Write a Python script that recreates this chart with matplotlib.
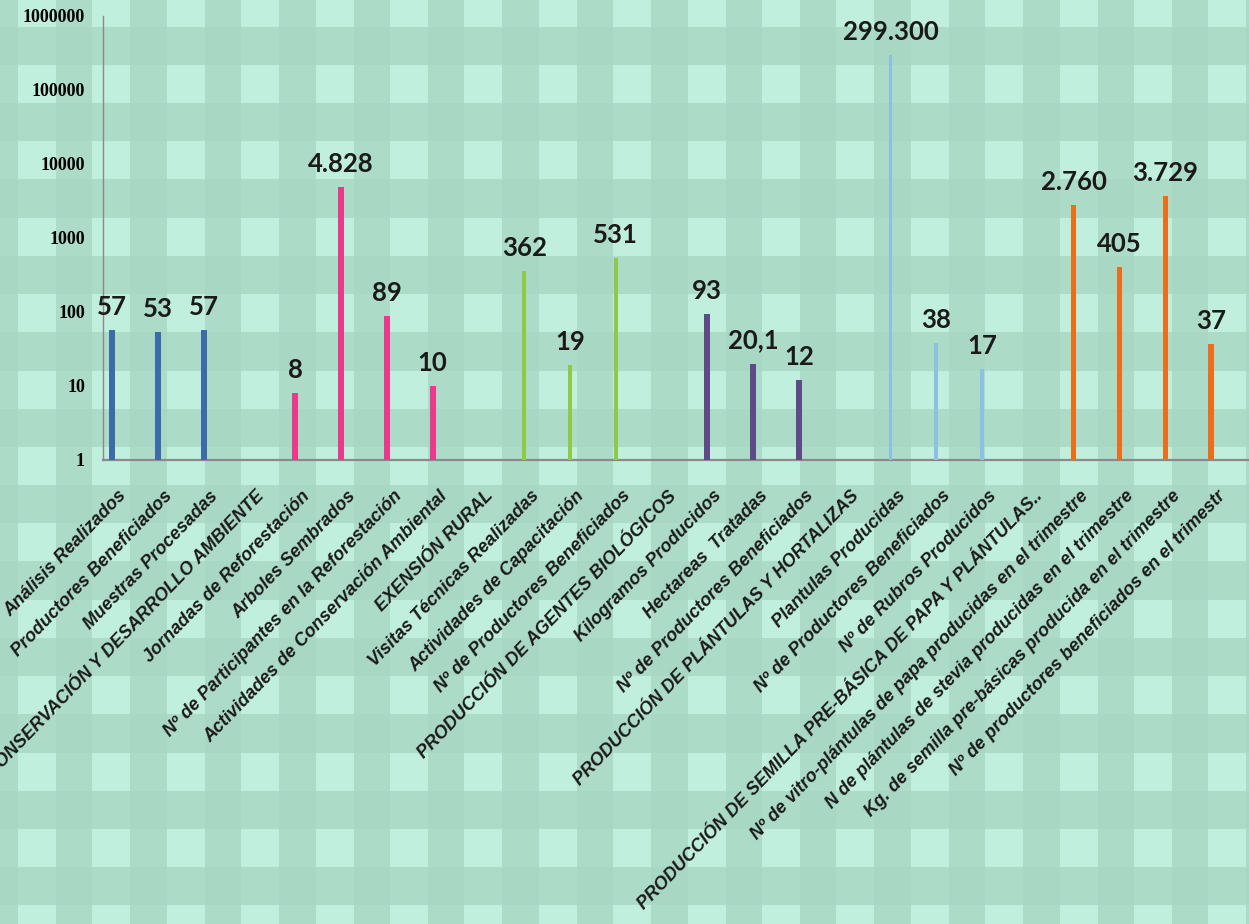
import numpy as np
import matplotlib.pyplot as plt
from matplotlib.patches import Rectangle
from matplotlib.transforms import ScaledTranslation

categories = [
    "Análisis Realizados",
    "Productores Beneficiados",
    "Muestras Procesadas",
    "CONSERVACIÓN Y DESARROLLO AMBIENTE",
    "Jornadas de Reforestación",
    "Arboles Sembrados",
    "Nº de Participantes en la Reforestación",
    "Actividades de Conservación Ambiental",
    "EXENSIÓN RURAL",
    "Visitas Técnicas Realizadas",
    "Actividades de Capacitación",
    "Nº de Productores Beneficiados",
    "PRODUCCIÓN DE AGENTES BIOLÓGICOS",
    "Kilogramos Producidos",
    "Hectareas  Tratadas",
    "Nº de Productores Beneficiados",
    "PRODUCCIÓN DE PLÁNTULAS Y HORTALIZAS",
    "Plantulas Producidas",
    "Nº de Productores Beneficiados",
    "Nº de Rubros Producidos",
    "PRODUCCIÓN DE SEMILLA PRE-BÁSICA DE PAPA Y PLÁNTULAS..",
    "Nº de vitro-plántulas de papa producidas en el trimestre",
    "N de plántulas de stevia producidas en el trimestre",
    "Kg. de semilla pre-básicas producida en el trimestre",
    "Nº de productores beneficiados en el trimestr",
]
nan = np.nan
values = [57, 53, 57, nan, 8, 4828, 89, 10, nan, 362, 19, 531, nan,
          93, 20.1, 12, nan, 299300, 38, 17, nan, 2760, 405, 3729, 37]
groups = [0, 0, 0, -1, 1, 1, 1, 1, -1, 2, 2, 2, -1,
          3, 3, 3, -1, 4, 4, 4, -1, 5, 5, 5, 5]

group_colors = ["#3d6aa8", "#ea3a8c", "#90c947", "#5e4a87", "#8dc0e2", "#e96f1c"]
group_widths = [0.13, 0.13, 0.09, 0.13, 0.08, 0.11]


def fmt(v):
    if float(v).is_integer():
        return f"{int(v):,}".replace(",", ".")
    return f"{v:.1f}".replace(".", ",")


W, H = 1249, 924
fig = plt.figure(figsize=(W / 100, H / 100), dpi=100)

# gingham background
bg = fig.add_axes([0, 0, 1, 1], zorder=-10)
bg.set_xlim(0, W)
bg.set_ylim(H, 0)
bg.axis("off")
bg.add_patch(Rectangle((0, 0), W, H, color="#a8d7c4", zorder=0))
xs = np.arange(18 - 74.4 * 2, W + 74.4, 74.4)
ys = np.arange(-11.4, H + 76.4, 76.4)
for x0 in xs:
    bg.add_patch(Rectangle((x0, 0), 38, H, color="#acdbc8", lw=0, zorder=1))
for y0 in ys:
    bg.add_patch(Rectangle((0, y0), W, 38, color="#acdbc8", lw=0, zorder=1))
for x0 in xs:
    for y0 in ys:
        bg.add_patch(Rectangle((x0, y0), 38, 38, color="#c1efdd", lw=0, zorder=2))

left, right = 103 / W, 1.0
bottom, top = (H - 460) / H, (H - 16) / H
ax = fig.add_axes([left, bottom, right - left, top - bottom])
ax.set_facecolor("none")
ax.set_yscale("log")
ax.set_ylim(1, 1e6)
ax.set_xlim(-0.2, 24.83)

x = np.arange(len(categories))
for i, (v, g) in enumerate(zip(values, groups)):
    if g < 0:
        continue
    ax.bar(x[i], v - 1, bottom=1, width=group_widths[g], color=group_colors[g], zorder=3)
    ax.annotate(fmt(v), (x[i], v), xytext=(0, 8), textcoords="offset points",
                ha="center", va="bottom", fontsize=18.5, fontweight="bold",
                family="Lato", color="#1a1a1a")

for s in ["top", "right"]:
    ax.spines[s].set_visible(False)
ax.spines["left"].set_color("#8a8a8a")
ax.spines["bottom"].set_color("#8a8a8a")
ax.spines["bottom"].set_linewidth(1.6)
ax.spines["left"].set_linewidth(1.0)

ax.set_yticks([1, 10, 100, 1000, 10000, 100000, 1000000])
ax.set_yticklabels(["1", "10", "100", "1000", "10000", "100000", "1000000"])
ax.minorticks_off()
ax.tick_params(axis="y", length=0, pad=13)
for lab in ax.get_yticklabels():
    lab.set_fontfamily("Liberation Serif")
    lab.set_fontweight("bold")
    lab.set_fontsize(13)

ax.set_xticks(x)
ax.set_xticklabels(categories, rotation=46, ha="right", va="center",
                   rotation_mode="anchor", fontsize=13, fontweight="bold",
                   fontstyle="italic", family="Liberation Sans", color="#1a1a1a")
ax.tick_params(axis="x", length=0, pad=24)
offset = ScaledTranslation(12 / 100, 0, fig.dpi_scale_trans)
for lab in ax.get_xticklabels():
    lab.set_transform(lab.get_transform() + offset)

fig.savefig("out.png", dpi=100)
